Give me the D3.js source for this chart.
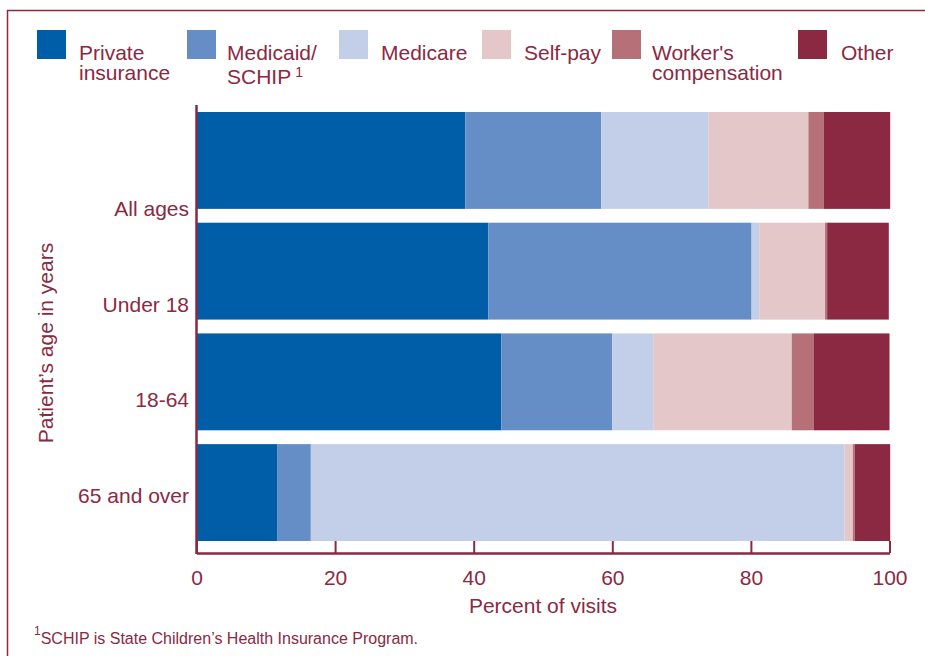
<!DOCTYPE html>
<html>
<head>
<meta charset="utf-8">
<script src="https://cdn.jsdelivr.net/npm/d3@7/dist/d3.min.js"></script>
<style>
html,body{margin:0;padding:0;background:#fff;}
svg{display:block;font-family:"Liberation Sans",Arial,Helvetica,sans-serif;}
</style>
</head>
<body>
<svg id="chart" width="925" height="656"></svg>
<script>
// ---- data ----
const categories = ["All ages", "Under 18", "18-64", "65 and over"];
const seriesNames = ["Private insurance", "Medicaid/SCHIP", "Medicare", "Self-pay", "Worker's compensation", "Other"];
const privateIns = [38.8, 42.1, 44.0, 11.7];
const medicaid   = [19.6, 38.0, 16.0, 4.8];
const medicare   = [15.5, 1.1, 5.9, 77.0];
const selfPay    = [14.4, 9.5, 20.0, 1.2];
const workersComp= [2.2, 0.3, 3.2, 0.3];
const other      = [9.6, 8.9, 10.9, 5.1];
const xTicks = [0, 20, 40, 60, 80, 100];

const colors = ["#005ea8", "#658dc6", "#c3cfe8", "#e4c7c9", "#b57078", "#8b2942"];
const textColor = "#8b2942";

const rows = categories.map((c, i) => ({
  cat: c,
  "Private insurance": privateIns[i],
  "Medicaid/SCHIP": medicaid[i],
  "Medicare": medicare[i],
  "Self-pay": selfPay[i],
  "Worker's compensation": workersComp[i],
  "Other": other[i]
}));

const svg = d3.select("#chart");

// frame
svg.append("path")
  .attr("d", "M7.5,656V10.5H925")
  .attr("fill", "none").attr("stroke", textColor).attr("stroke-width", 1.5);

const x = d3.scaleLinear().domain([0, 100]).range([196.5, 889.5]);
const y = d3.scaleBand().domain(categories).range([112, 541]).paddingInner(0.125).paddingOuter(0);
const yLabel = d3.scalePoint().domain(categories).range([216, 503]);
const color = d3.scaleOrdinal().domain(seriesNames).range(colors);

const stack = d3.stack().keys(seriesNames);
const stacked = stack(rows);

svg.append("g").selectAll("g").data(stacked).join("g")
  .attr("fill", d => color(d.key))
  .selectAll("rect").data(d => d).join("rect")
  .attr("x", d => x(d[0]))
  .attr("y", d => y(d.data.cat))
  .attr("width", d => x(d[1]) - x(d[0]))
  .attr("height", y.bandwidth());

// x axis
const axisY = 553;
const xAxis = d3.axisBottom(x).tickValues(xTicks).tickSizeInner(-12).tickSizeOuter(0).tickPadding(17);
const gx = svg.append("g").attr("transform", `translate(0,${axisY})`).call(xAxis);
gx.select(".domain").attr("stroke", textColor).attr("stroke-width", 2.5);
gx.selectAll(".tick line").attr("stroke", textColor).attr("stroke-width", 2);
gx.selectAll(".tick text").attr("fill", textColor).attr("font-size", 21)
  .attr("font-family", "Liberation Sans, Arial, sans-serif");

// y axis line
svg.append("line")
  .attr("x1", x(0)).attr("x2", x(0)).attr("y1", 105).attr("y2", axisY + 1)
  .attr("stroke", textColor).attr("stroke-width", 2.5);

// y labels
svg.append("g").selectAll("text").data(categories).join("text")
  .attr("x", 189).attr("y", d => yLabel(d))
  .attr("text-anchor", "end").attr("fill", textColor).attr("font-size", 21)
  .text(d => d);

// axis titles
svg.append("text").attr("x", 543).attr("y", 613).attr("text-anchor", "middle")
  .attr("fill", textColor).attr("font-size", 21).text("Percent of visits");
svg.append("text").attr("transform", "translate(53,343) rotate(-90)").attr("text-anchor", "middle")
  .attr("fill", textColor).attr("font-size", 21).text("Patient\u2019s age in years");

// legend
const legendItems = [
  {key: "Private insurance", sx: 37, tx: 79, lines: ["Private", "insurance"], l2: 80},
  {key: "Medicaid/SCHIP", sx: 187, tx: 227, lines: ["Medicaid/", "SCHIP"], l2: 84, sup: true},
  {key: "Medicare", sx: 339, tx: 381, lines: ["Medicare"]},
  {key: "Self-pay", sx: 482, tx: 524, lines: ["Self-pay"]},
  {key: "Worker's compensation", sx: 612, tx: 652, lines: ["Worker's", "compensation"], l2: 80},
  {key: "Other", sx: 798, tx: 841, lines: ["Other"]}
];
const lg = svg.append("g");
legendItems.forEach(it => {
  lg.append("rect").attr("x", it.sx).attr("y", 30).attr("width", 29).attr("height", 29).attr("fill", color(it.key));
  const t = lg.append("text").attr("fill", textColor).attr("font-size", 21);
  t.append("tspan").attr("x", it.tx).attr("y", 59.5).text(it.lines[0]);
  if (it.lines[1]) {
    const t2 = t.append("tspan").attr("x", it.tx).attr("y", it.l2).text(it.lines[1]);
    if (it.sup) {
      t.append("tspan").attr("dx", 4).attr("dy", -7).attr("font-size", 14).text("1");
    }
  }
});

// footnote
const fn = svg.append("text").attr("x", 34).attr("y", 644).attr("fill", textColor).attr("font-size", 16);
fn.append("tspan").attr("font-size", 12).attr("dy", -9).text("1");
fn.append("tspan").attr("dy", 9).text("SCHIP is State Children\u2019s Health Insurance Program.");
</script>
</body>
</html>
